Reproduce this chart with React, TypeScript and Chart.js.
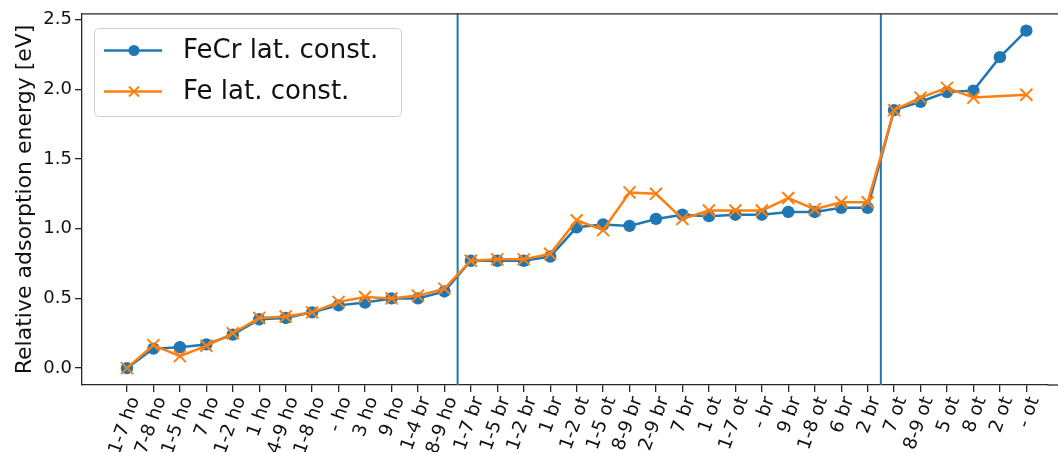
import React, { useEffect, useRef } from "react";
import { Chart, registerables } from "chart.js";

Chart.register(...registerables);

const categories = [
  "1-7 ho", "7-8 ho", "1-5 ho", "7 ho", "1-2 ho", "1 ho", "4-9 ho", "1-8 ho", "- ho", "3 ho", "9 ho", "1-4 br", "8-9 ho",
  "1-7 br", "1-5 br", "1-2 br", "1 br", "1-2 ot", "1-5 ot", "8-9 br", "2-9 br", "7 br", "1 ot", "1-7 ot", "- br", "9 br", "1-8 ot", "6 br", "2 br",
  "7 ot", "8-9 ot", "5 ot", "8 ot", "2 ot", "- ot",
];

const fecrValues = [
  0.0, 0.14, 0.15, 0.17, 0.24, 0.35, 0.36, 0.40, 0.45, 0.47, 0.50, 0.50, 0.55,
  0.77, 0.77, 0.77, 0.80, 1.01, 1.03, 1.02, 1.07, 1.10, 1.09, 1.10, 1.10, 1.12, 1.12, 1.15, 1.15,
  1.85, 1.91, 1.98, 1.99, 2.23, 2.42,
];

const feValues: (number | null)[] = [
  0.0, 0.165, 0.086, 0.16, 0.25, 0.36, 0.37, 0.40, 0.475, 0.51, 0.50, 0.52, 0.57,
  0.77, 0.78, 0.78, 0.82, 1.06, 0.99, 1.26, 1.25, 1.07, 1.13, 1.13, 1.13, 1.22, 1.14, 1.19, 1.19,
  1.85, 1.94, 2.01, 1.94, null, 1.96,
];

const seriesLabels = ["FeCr lat. const.", "Fe lat. const."];
const yTicks = [0.0, 0.5, 1.0, 1.5, 2.0, 2.5];
const separators = [12.5, 28.5];
const yTitle = "Relative adsorption energy [eV]";

const BLUE = "#1f77b4";
const ORANGE = "#ff7f0e";
const FONT = "'DejaVu Sans', sans-serif";
const AXIS = "#262626";

export default function App() {
  const ref = useRef<HTMLCanvasElement | null>(null);

  useEffect(() => {
    const canvas = ref.current;
    if (!canvas) return;

    const framePlugin = {
      id: "frame",
      beforeDatasetsDraw(chart: any) {
        const { ctx, chartArea } = chart;
        const xs = chart.scales.x;
        ctx.save();
        ctx.strokeStyle = BLUE;
        ctx.lineWidth = 2;
        separators.forEach((s) => {
          const px = xs.getPixelForValue(s);
          ctx.beginPath();
          ctx.moveTo(px, chartArea.top);
          ctx.lineTo(px, chartArea.bottom);
          ctx.stroke();
        });
        ctx.restore();
      },
      afterDraw(chart: any) {
        const { ctx, chartArea } = chart;
        ctx.save();
        ctx.strokeStyle = AXIS;
        ctx.lineWidth = 1.3;
        ctx.beginPath();
        ctx.moveTo(chartArea.left, chartArea.top);
        ctx.lineTo(1058, chartArea.top);
        ctx.stroke();
        ctx.beginPath();
        ctx.moveTo(chartArea.right, chartArea.bottom);
        ctx.lineTo(1058, chartArea.bottom);
        ctx.stroke();
        ctx.restore();

        // legend
        const bx = 94.5, by = 28.5, bw = 307, bh = 88, r = 4;
        ctx.save();
        ctx.beginPath();
        ctx.moveTo(bx + r, by);
        ctx.lineTo(bx + bw - r, by);
        ctx.quadraticCurveTo(bx + bw, by, bx + bw, by + r);
        ctx.lineTo(bx + bw, by + bh - r);
        ctx.quadraticCurveTo(bx + bw, by + bh, bx + bw - r, by + bh);
        ctx.lineTo(bx + r, by + bh);
        ctx.quadraticCurveTo(bx, by + bh, bx, by + bh - r);
        ctx.lineTo(bx, by + r);
        ctx.quadraticCurveTo(bx, by, bx + r, by);
        ctx.closePath();
        ctx.fillStyle = "rgba(255,255,255,0.8)";
        ctx.fill();
        ctx.strokeStyle = "#d0d0d0";
        ctx.lineWidth = 1;
        ctx.stroke();

        chart.data.datasets.forEach((ds: any, i: number) => {
          const y = 50.5 + i * 41;
          ctx.strokeStyle = ds.borderColor;
          ctx.lineWidth = 2.5;
          ctx.beginPath();
          ctx.moveTo(104, y);
          ctx.lineTo(162, y);
          ctx.stroke();
          if (ds.pointStyle === "circle") {
            ctx.fillStyle = ds.borderColor;
            ctx.beginPath();
            ctx.arc(134, y, 5.5, 0, Math.PI * 2);
            ctx.fill();
          } else {
            ctx.lineWidth = 2;
            const h = 5;
            ctx.beginPath();
            ctx.moveTo(134 - h, y - h);
            ctx.lineTo(134 + h, y + h);
            ctx.moveTo(134 - h, y + h);
            ctx.lineTo(134 + h, y - h);
            ctx.stroke();
          }
          ctx.fillStyle = "#111";
          ctx.font = `26px ${FONT}`;
          ctx.textBaseline = "middle";
          ctx.textAlign = "left";
          ctx.fillText(ds.label, 183, y + 1);
        });
        ctx.restore();
      },
    };

    const chart = new Chart(canvas, {
      type: "line",
      data: {
        datasets: [
          {
            label: seriesLabels[0],
            data: fecrValues.map((v, i) => ({ x: i, y: v })),
            borderColor: BLUE,
            backgroundColor: BLUE,
            borderWidth: 2.5,
            pointStyle: "circle",
            pointRadius: 6.2,
            pointBorderWidth: 0,
            pointBackgroundColor: BLUE,
            order: 2,
          },
          {
            label: seriesLabels[1],
            data: feValues.map((v, i) => ({ x: i, y: v })),
            borderColor: ORANGE,
            backgroundColor: ORANGE,
            borderWidth: 2.5,
            pointStyle: "crossRot",
            pointRadius: 8.5,
            pointBorderWidth: 2,
            pointBorderColor: ORANGE,
            spanGaps: true,
            order: 1,
          },
        ] as any,
      },
      plugins: [framePlugin],
      options: {
        animation: false,
        responsive: false,
        maintainAspectRatio: false,
        layout: { padding: { left: 0, right: 0, top: 13, bottom: 0 } },
        plugins: {
          legend: { display: false },
          tooltip: { enabled: false },
        },
        scales: {
          x: {
            type: "linear",
            min: -1.7,
            max: 34.8,
            afterBuildTicks: (scale: any) => {
              scale.ticks = categories.map((_, i) => ({ value: i }));
            },
            afterFit: (scale: any) => {
              scale.height = 452 - 385;
              scale.paddingLeft = 0;
              scale.paddingRight = 0;
            },
            ticks: {
              autoSkip: false,
              minRotation: 70,
              maxRotation: 70,
              labelOffset: 8,
              padding: 2,
              color: "#111",
              font: { family: FONT, size: 18.5 },
              callback: (v: any) => categories[Math.round(Number(v))] ?? "",
            },
            grid: {
              display: true,
              drawOnChartArea: false,
              drawTicks: true,
              tickLength: 7,
              color: AXIS,
              lineWidth: 1.3,
            },
            border: { display: true, color: AXIS, width: 1.3 },
          },
          y: {
            type: "linear",
            min: -0.121,
            max: 2.541,
            afterBuildTicks: (scale: any) => {
              scale.ticks = yTicks.map((v) => ({ value: v }));
            },
            afterFit: (scale: any) => {
              scale.width = 82;
            },
            ticks: {
              padding: 3,
              color: "#111",
              font: { family: FONT, size: 18 },
              callback: (v: any) => Number(v).toFixed(1),
            },
            title: {
              display: true,
              text: yTitle,
              color: "#111",
              font: { family: FONT, size: 22 },
              padding: { top: 12, bottom: 0 },
            },
            grid: {
              display: true,
              drawOnChartArea: false,
              drawTicks: true,
              tickLength: 7,
              color: AXIS,
              lineWidth: 1.3,
            },
            border: { display: true, color: AXIS, width: 1.3 },
          },
        },
      } as any,
    });

    return () => chart.destroy();
  }, []);

  return (
    <div style={{ position: "absolute", left: 0, top: 0, width: 1058, height: 452, background: "#fff" }}>
      <canvas ref={ref} width={1058} height={452} />
    </div>
  );
}
